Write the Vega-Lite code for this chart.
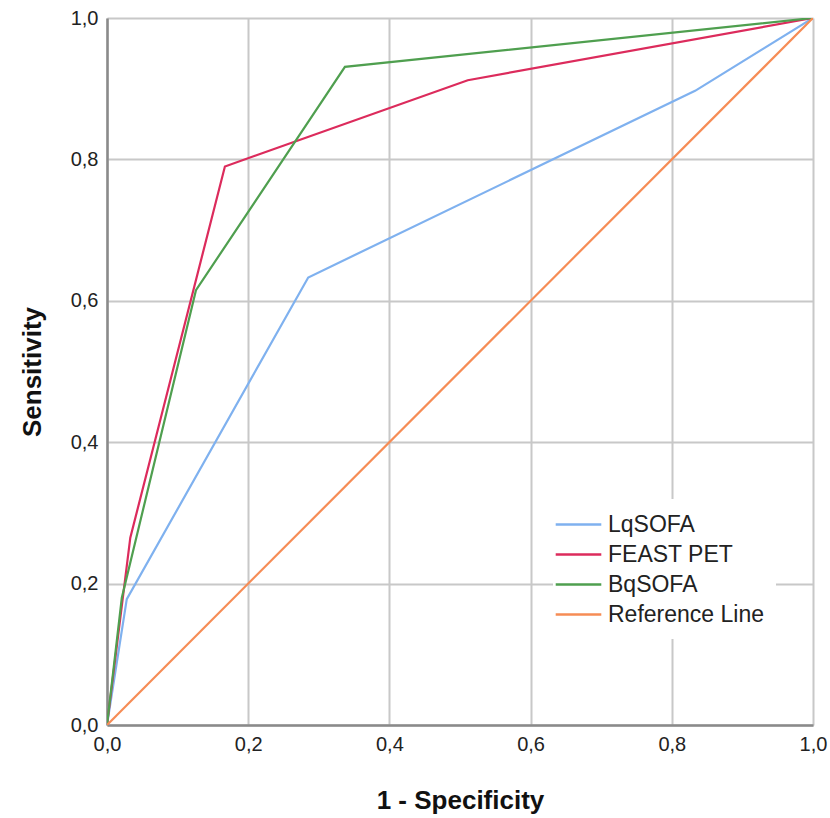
{
  "$schema": "https://vega.github.io/schema/vega-lite/v6.json",
  "autosize": {"type": "none"},
  "width": 706,
  "height": 707,
  "padding": {"left": 107, "top": 18, "right": 17, "bottom": 93},
  "background": "white",
  "config": {
    "view": {"stroke": null},
    "font": "Liberation Sans",
    "axis": {
      "gridColor": "#c8c8c8",
      "gridWidth": 2,
      "domainColor": "#8a8a8a",
      "domainWidth": 2.5,
      "ticks": false,
      "labelFont": "Liberation Sans",
      "labelFontSize": 20,
      "labelColor": "#222222",
      "titleFont": "Liberation Sans",
      "titleFontSize": 26,
      "titleFontWeight": "bold",
      "titleColor": "#111111"
    }
  },
  "data": {
    "values": [
      {"series": "LqSOFA", "o": 0, "x": 0.0, "y": 0.0},
      {"series": "LqSOFA", "o": 1, "x": 0.028, "y": 0.178},
      {"series": "LqSOFA", "o": 2, "x": 0.285, "y": 0.633},
      {"series": "LqSOFA", "o": 3, "x": 0.833, "y": 0.897},
      {"series": "LqSOFA", "o": 4, "x": 1.0, "y": 1.0},
      {"series": "FEAST PET", "o": 0, "x": 0.0, "y": 0.0},
      {"series": "FEAST PET", "o": 1, "x": 0.033, "y": 0.265},
      {"series": "FEAST PET", "o": 2, "x": 0.167, "y": 0.79},
      {"series": "FEAST PET", "o": 3, "x": 0.511, "y": 0.912},
      {"series": "FEAST PET", "o": 4, "x": 1.0, "y": 1.0},
      {"series": "BqSOFA", "o": 0, "x": 0.0, "y": 0.0},
      {"series": "BqSOFA", "o": 1, "x": 0.021, "y": 0.18},
      {"series": "BqSOFA", "o": 2, "x": 0.126, "y": 0.615},
      {"series": "BqSOFA", "o": 3, "x": 0.337, "y": 0.931},
      {"series": "BqSOFA", "o": 4, "x": 1.0, "y": 1.0},
      {"series": "Reference Line", "o": 0, "x": 0.0, "y": 0.0},
      {"series": "Reference Line", "o": 1, "x": 1.0, "y": 1.0}
    ]
  },
  "mark": {"type": "line", "strokeWidth": 2.2, "clip": true},
  "encoding": {
    "x": {
      "field": "x", "type": "quantitative",
      "scale": {"domain": [0, 1], "nice": false, "zero": true},
      "axis": {
        "title": "1 - Specificity",
        "values": [0, 0.2, 0.4, 0.6, 0.8, 1.0],
        "labelExpr": "replace(format(datum.value, '.1f'), '.', ',')",
        "labelPadding": 9,
        "titlePadding": 33,
        "labelFlush": false
      }
    },
    "y": {
      "field": "y", "type": "quantitative",
      "scale": {"domain": [0, 1], "nice": false},
      "axis": {
        "title": "Sensitivity",
        "values": [0, 0.2, 0.4, 0.6, 0.8, 1.0],
        "labelExpr": "replace(format(datum.value, '.1f'), '.', ',')",
        "labelPadding": 9,
        "titlePadding": 25,
        "labelFlush": false
      }
    },
    "color": {
      "field": "series", "type": "nominal",
      "scale": {
        "domain": ["LqSOFA", "FEAST PET", "BqSOFA", "Reference Line"],
        "range": ["#7fb1ef", "#dc2b5c", "#4f9f4f", "#f68c55"]
      },
      "legend": {
        "title": null,
        "orient": "none",
        "legendX": 446,
        "legendY": 481,
        "fillColor": "white",
        "padding": 12,
        "symbolType": "M-1.9,0H1.9",
        "symbolSize": 576,
        "symbolStrokeWidth": 2.5,
        "labelFont": "Liberation Sans",
        "labelFontSize": 23,
        "labelColor": "#222222",
        "labelOffset": 16,
        "rowPadding": 4
      }
    },
    "order": {"field": "o", "type": "quantitative"}
  }
}
